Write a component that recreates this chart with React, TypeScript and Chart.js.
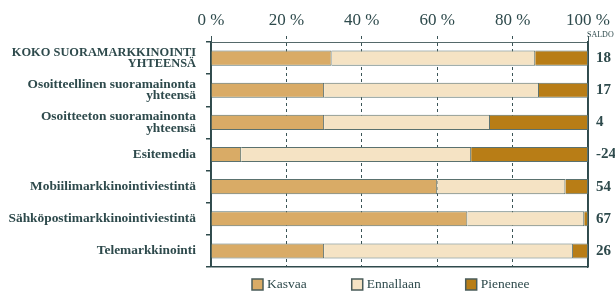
import { useEffect, useRef } from 'react';
import { Chart, registerables } from 'chart.js';

Chart.register(...registerables);

const categories: (string | string[])[] = [
  ['KOKO SUORAMARKKINOINTI', 'YHTEENSÄ'],
  ['Osoitteellinen suoramainonta', 'yhteensä'],
  ['Osoitteeton suoramainonta', 'yhteensä'],
  'Esitemedia',
  'Mobiilimarkkinointiviestintä',
  'Sähköpostimarkkinointiviestintä',
  'Telemarkkinointi',
];
const kasvaa = [32, 30, 30, 8, 60, 68, 30];
const ennallaan = [54, 57, 44, 61, 34, 31, 66];
const pienenee = [14, 13, 26, 31, 6, 1, 4];
const saldo = ['18', '17', '4', '-24', '54', '67', '26'];
const saldoTitle = 'SALDO';
const seriesNames = ['Kasvaa', 'Ennallaan', 'Pienenee'];
const seriesColors = ['#d9ab66', '#f5e3c4', '#b87d16'];
const xMin = 0;
const xMax = 100;
const xStep = 20;

const FONT = "'Liberation Serif', 'DejaVu Serif', serif";
const TEXT = '#2e4a4c';
const AXIS = '#2f4a4c';
const GRID = '#3a5456';
const BAR_BORDER = '#5a716f';

const extrasPlugin = {
  id: 'extras',
  afterDraw(chart: any) {
    const { ctx, chartArea } = chart;
    ctx.save();
    ctx.font = `8px ${FONT}`;
    ctx.fillStyle = TEXT;
    ctx.textAlign = 'left';
    ctx.textBaseline = 'middle';
    ctx.fillText(saldoTitle, chartArea.right - 1, 35);
    ctx.font = `13.5px ${FONT}`;
    const box = 11;
    let x = 252;
    const y = 284.5;
    chart.data.datasets.forEach((ds: any) => {
      ctx.fillStyle = ds.backgroundColor;
      ctx.fillRect(x, y - box / 2, box, box);
      ctx.strokeStyle = '#4a5c5a';
      ctx.lineWidth = 1.5;
      ctx.strokeRect(x, y - box / 2, box, box);
      ctx.fillStyle = TEXT;
      ctx.textBaseline = 'middle';
      ctx.fillText(ds.label, x + box + 4, y);
      x += box + 4 + ctx.measureText(ds.label).width + 45;
    });
    ctx.restore();
  },
};

export default function App() {
  const ref = useRef<HTMLCanvasElement>(null);
  useEffect(() => {
    if (!ref.current) return;
    const isEdge = (c: any) => c.tick && (c.tick.value === xMin || c.tick.value === xMax);
    const chart = new Chart(ref.current, {
      type: 'bar',
      data: {
        labels: categories,
        datasets: [kasvaa, ennallaan, pienenee].map((d, i) => ({
          label: seriesNames[i],
          data: d,
          backgroundColor: seriesColors[i],
          borderColor: BAR_BORDER,
          borderWidth: 1,
          barPercentage: 0.47,
          categoryPercentage: 1,
        })),
      },
      options: {
        indexAxis: 'y',
        animation: false,
        responsive: false,
        devicePixelRatio: 1,
        layout: { padding: { left: 0, right: 0, top: 0, bottom: 24 } },
        plugins: { legend: { display: false }, tooltip: { enabled: false } },
        scales: {
          x: {
            position: 'top',
            stacked: true,
            min: xMin,
            max: xMax,
            afterFit: (s: any) => { s.height = 42; },
            ticks: {
              stepSize: xStep,
              padding: 5,
              color: TEXT,
              font: { family: FONT, size: 17 },
              callback: (v: any) => `${v} %`,
            },
            grid: {
              color: GRID,
              lineWidth: 1,
              tickLength: 6,
              tickColor: GRID,
              tickBorderDash: (c: any) => (isEdge(c) ? [] : [3, 3]),
            },
            border: {
              display: true,
              color: '#55696a',
              width: 1,
              dash: (c: any) => (isEdge(c) ? [] : [3, 3]),
            },
          },
          y: {
            stacked: true,
            afterFit: (s: any) => { s.width = 211; },
            ticks: {
              padding: 10,
              color: TEXT,
              font: (c: any) => ({
                family: FONT,
                size: c.index === 0 ? 12.4 : 13.4,
                weight: 'bold',
                lineHeight: 0.85,
              }),
            },
            grid: {
              offset: true,
              drawOnChartArea: true,
              color: (c: any) => (c.type === 'scale' ? AXIS : 'rgba(0,0,0,0)'),
              tickColor: AXIS,
              tickLength: 5,
              lineWidth: 1.5,
            },
            border: { display: true, color: AXIS, width: 1.5 },
          },
          y2: {
            type: 'category',
            labels: saldo,
            position: 'right',
            offset: true,
            afterFit: (s: any) => { s.width = 27; },
            ticks: {
              padding: 8,
              color: TEXT,
              font: { family: FONT, size: 15, weight: 'bold' },
            },
            grid: { display: false, drawTicks: false },
            border: { display: true, color: AXIS, width: 1.5 },
          },
        },
      } as any,
      plugins: [extrasPlugin],
    });
    return () => chart.destroy();
  }, []);
  return (
    <div style={{ position: 'absolute', left: 0, top: 0, width: 615, height: 291, background: '#fff' }}>
      <canvas ref={ref} width={615} height={291} style={{ display: 'block', width: 615, height: 291 }} />
    </div>
  );
}
